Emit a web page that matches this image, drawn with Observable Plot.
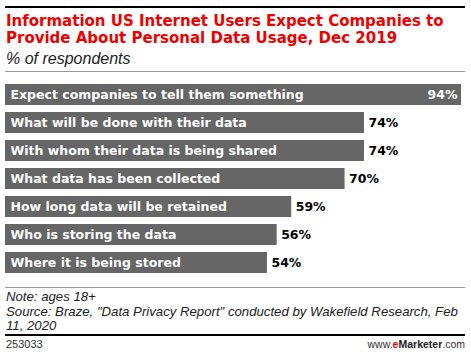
<!DOCTYPE html>
<html>
<head>
<meta charset="utf-8">
<script src="https://cdn.jsdelivr.net/npm/d3@7"></script>
<script src="https://cdn.jsdelivr.net/npm/@observablehq/plot@0.6"></script>
<style>
  body { margin: 0; background: #fff; }
  #wrap { position: relative; width: 471px; height: 357px; overflow: hidden; font-family: "Liberation Sans", Arial, sans-serif; }
  .rule { position: absolute; left: 5px; width: 460px; }
  #title { position: absolute; left: 6px; top: 13px; color: #ee0000; font-family: "DejaVu Sans", sans-serif; font-weight: bold; font-size: 15px; line-height: 17px; white-space: nowrap; }
  #subtitle { position: absolute; left: 6px; top: 49.5px; font-style: italic; font-size: 16px; line-height: 18px; color: #222; }
  #chart { position: absolute; left: 0; top: 76px; }
  #notes { position: absolute; left: 6px; top: 290px; font-style: italic; font-size: 13.2px; line-height: 14.5px; color: #222; white-space: nowrap; }
  #id { position: absolute; left: 6px; top: 338px; font-size: 11px; line-height: 12px; color: #333; }
  #brand { position: absolute; right: 6px; top: 338px; font-size: 10.5px; line-height: 12px; color: #333; }
  #brand b { font-weight: bold; color: #222; }
  #brand .e { color: #ee0000; }
</style>
</head>
<body>
<div id="wrap">
  <div class="rule" style="top:6px;height:2px;background:#000"></div>
  <div id="title">Information US Internet Users Expect Companies to<br>Provide About Personal Data Usage, Dec 2019</div>
  <div id="subtitle">% of respondents</div>
  <div class="rule" style="top:71px;height:1px;background:#999"></div>
  <div id="chart"></div>
  <div class="rule" style="top:287px;height:1px;background:#999"></div>
  <div id="notes">Note: ages 18+<br>Source: Braze, "Data Privacy Report" conducted by Wakefield Research, Feb<br>11, 2020</div>
  <div class="rule" style="top:334px;height:2px;background:#000"></div>
  <div id="id">253033</div>
  <div id="brand">www.<b class="e">e</b><b>Marketer</b>.com</div>
</div>
<script>
const categories = [
  "Expect companies to tell them something",
  "What will be done with their data",
  "With whom their data is being shared",
  "What data has been collected",
  "How long data will be retained",
  "Who is storing the data",
  "Where it is being stored"
];
const values = [94, 74, 74, 70, 59, 56, 54];
const valueLabels = ["94%", "74%", "74%", "70%", "59%", "56%", "54%"];

const data = categories.map((c, i) => ({category: c, value: values[i], label: valueLabels[i]}));
const maxV = d3.max(values);
const inside = data.filter(d => d.value === maxV);
const outside = data.filter(d => d.value !== maxV);

const chart = Plot.plot({
  width: 471,
  height: 204,
  marginTop: 0, marginBottom: 0, marginLeft: 0, marginRight: 0,
  x: {domain: [0, maxV], range: [5, 461], axis: null},
  y: {domain: categories, range: [3.5, 200.7], paddingInner: 0.25, paddingOuter: 0.125, axis: null},
  style: {fontFamily: "'DejaVu Sans', sans-serif", background: "transparent", overflow: "visible"},
  marks: [
    Plot.barX(data, {x: "value", y: "category", fill: "#666666"}),
    Plot.text(data, {x: 0, y: "category", text: "category", textAnchor: "start", dx: 5, fill: "#fff", fontWeight: "bold", fontSize: 12.5}),
    Plot.text(inside, {x: "value", y: "category", text: "label", textAnchor: "end", dx: -4, fill: "#fff", fontWeight: "bold", fontSize: 12.5}),
    Plot.text(outside, {x: "value", y: "category", text: "label", textAnchor: "start", dx: 4, fill: "#000", fontWeight: "bold", fontSize: 12.5})
  ]
});
document.getElementById("chart").appendChild(chart);
</script>
</body>
</html>
